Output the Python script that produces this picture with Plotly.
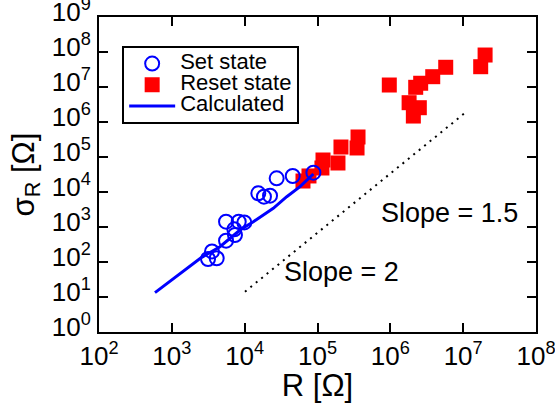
import plotly.graph_objects as go

# Set state (blue open circles)
set_R = [3140, 4130, 3560, 5550, 7360, 7210, 5550, 8280, 9890, 15400, 18400, 22300, 27500, 45700, 87800]
set_sigma = [122, 128, 200, 406, 591, 860, 1417, 1417, 1350, 9180, 7340, 7840, 24600, 28700, 35600]

# Reset state (red filled squares)
reset_R = [63200, 76400, 115000, 119000, 191000, 210000, 349000, 360000,
           968000, 2.23e6, 2.61e6, 3.82e6, 5.76e6, 2.0e7, 1.74e7, 1.81e6, 2.5e6, 2.07e6]
reset_sigma = [20600, 28700, 48500, 82100, 67400, 193000, 181000, 373000,
               1.14e7, 9.8e6, 1.28e7, 1.97e7, 3.66e7, 8.2e7, 3.8e7, 3.56e6, 2.56e6, 1.48e6]

# Calculated curve
calc_R = [587, 1295, 2570, 4580, 8630, 13150, 24700, 37800, 57500, 87800]
calc_sigma = [13.3, 47.5, 136, 274, 820, 1417, 3420, 7340, 14200, 32700]

# Reference slope line (dotted)
slope_R = [1.01e4, 1.14e7]
slope_sigma = [14.2, 2.06e6]

x_tickvals = [1e2, 1e3, 1e4, 1e5, 1e6, 1e7, 1e8]
x_ticktext = ["10<sup>%d</sup>" % e for e in range(2, 9)]
y_tickvals = [10 ** e for e in range(0, 10)]
y_ticktext = ["10<sup>%d</sup>" % e for e in range(0, 10)]

FONT = "Liberation Sans, Arial, Helvetica, sans-serif"


def leg(name):
    return '<span style="font-size:22px">%s</span>' % name


fig = go.Figure()
fig.add_trace(go.Scatter(
    x=slope_R, y=slope_sigma, mode="lines", showlegend=False,
    line=dict(color="black", width=2, dash="2px,5px"), hoverinfo="skip"))
fig.add_trace(go.Scatter(
    x=reset_R, y=reset_sigma, mode="markers", name=leg("Reset state"), legendrank=2,
    marker=dict(symbol="square", size=15, color="#ff0000", line=dict(width=0))))
fig.add_trace(go.Scatter(
    x=set_R, y=set_sigma, mode="markers", name=leg("Set state"), legendrank=1,
    marker=dict(symbol="circle-open", size=14, color="#0000ff", line=dict(width=2, color="#0000ff"))))
fig.add_trace(go.Scatter(
    x=calc_R, y=calc_sigma, mode="lines", name=leg("Calculated"), legendrank=3,
    line=dict(color="#0000ff", width=3)))

axis_common = dict(
    type="log", showgrid=False, zeroline=False, showline=True, linewidth=2,
    linecolor="black", mirror="ticks", ticks="inside", ticklen=9, tickwidth=2,
    tickcolor="black", tickfont=dict(family=FONT, size=26, color="black"),
    automargin=False, ticklabeloverflow="allow",
)

fig.update_layout(
    width=555, height=403,
    margin=dict(l=99, r=19, t=17, b=71),
    paper_bgcolor="white", plot_bgcolor="white",
    font=dict(family=FONT, color="black"),
    xaxis=dict(range=[2, 8], tickvals=x_tickvals, ticktext=x_ticktext,
               title=dict(text="R [Ω]", font=dict(family=FONT, size=31), standoff=5),
               **axis_common),
    yaxis=dict(range=[0, 9], tickvals=y_tickvals, ticktext=y_ticktext,
               ticklabelshift=-5, ticklabelstandoff=1,
               title=dict(text="σ<sub>R</sub> [Ω]", font=dict(family=FONT, size=31), standoff=8),
               **axis_common),
    legend=dict(x=0.053, y=0.908, xanchor="left", yanchor="top",
                bgcolor="white", bordercolor="black", borderwidth=2,
                font=dict(family=FONT, size=14, color="black"),
                itemwidth=46,
                traceorder="normal", tracegroupgap=0),
    annotations=[
        dict(x=6.819, y=3.4, xref="x", yref="y", text="Slope = 1.5", showarrow=False,
             font=dict(family=FONT, size=27, color="black")),
        dict(x=5.323, y=1.714, xref="x", yref="y", text="Slope = 2", showarrow=False,
             font=dict(family=FONT, size=27, color="black")),
    ],
)

fig.write_html("out.html")
